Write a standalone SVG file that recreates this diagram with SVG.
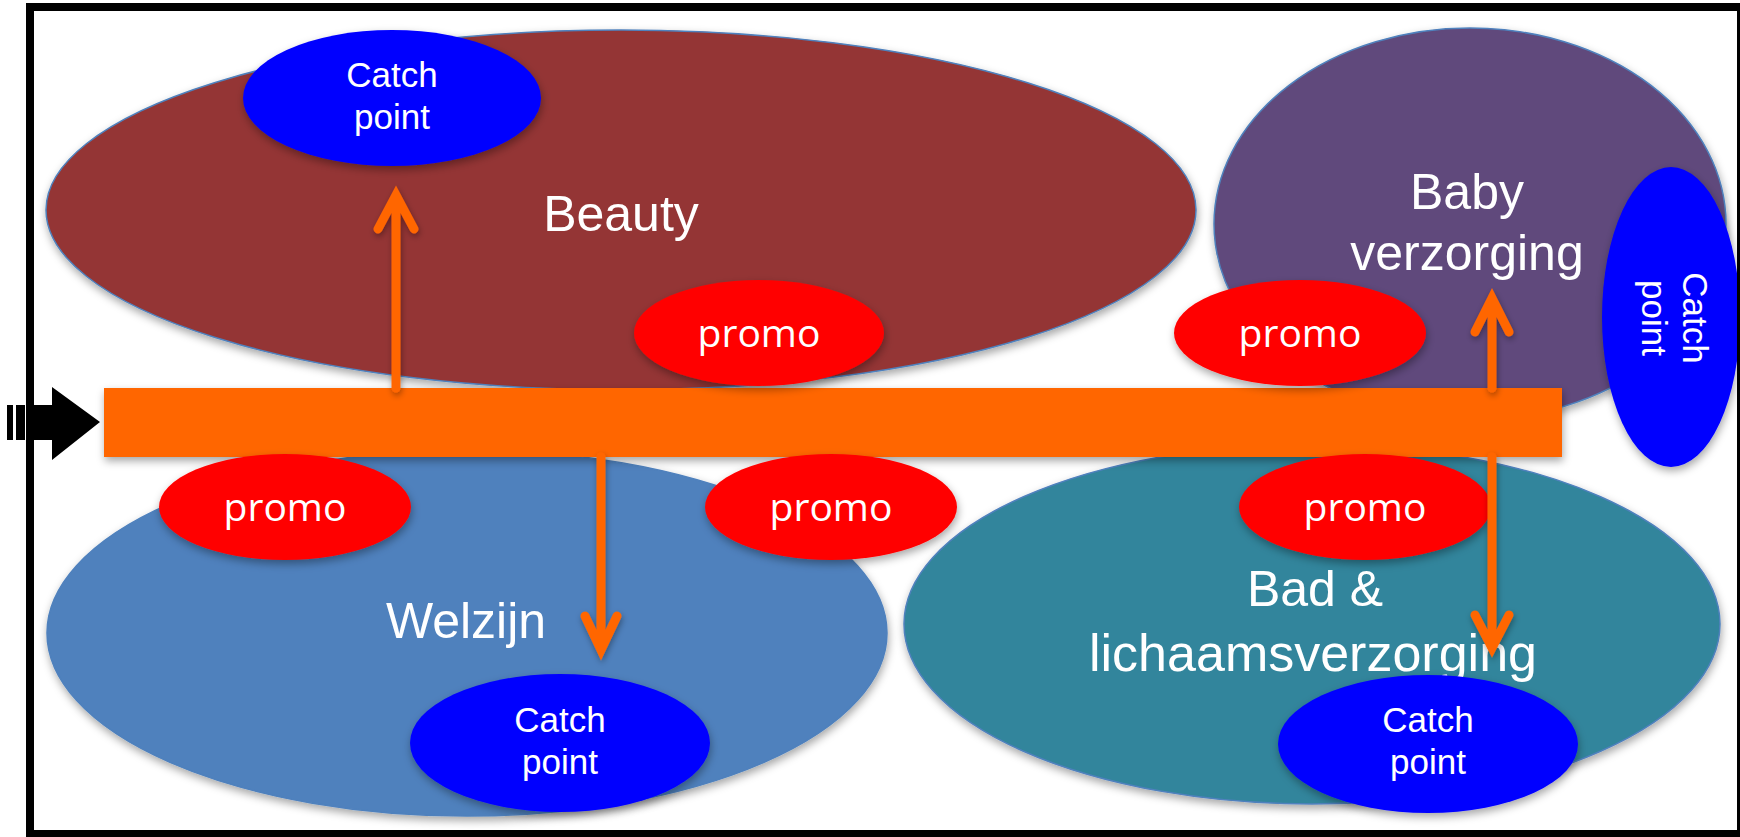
<svg xmlns="http://www.w3.org/2000/svg" width="1740" height="837" viewBox="0 0 1740 837">
<defs>
<filter id="sh" x="-20%" y="-20%" width="140%" height="150%">
<feDropShadow dx="1" dy="4" stdDeviation="4" flood-color="#000" flood-opacity="0.35"/>
</filter>
<filter id="shs" x="-50%" y="-20%" width="200%" height="140%">
<feDropShadow dx="1" dy="3" stdDeviation="3" flood-color="#000" flood-opacity="0.35"/>
</filter>
</defs>
<style>
.area{stroke:#4f81bd;stroke-width:1.5;filter:url(#sh)}
.promo{fill:#ff0000;filter:url(#sh)}
.catch{fill:#0000ff;filter:url(#sh)}
.big{font-family:"Liberation Sans",Arial,sans-serif;font-size:50px;fill:#fff;text-anchor:middle}
.ct{font-family:"Liberation Sans",Arial,sans-serif;font-size:35px;fill:#fff;text-anchor:middle}
.pt{font-family:"Open Sans","Liberation Sans",sans-serif;font-size:39px;font-weight:500;fill:#fff;text-anchor:middle}
.arr{fill:none;stroke:#ff6600;stroke-width:9;stroke-linecap:round;stroke-linejoin:miter;filter:url(#shs)}
</style>
<rect x="0" y="0" width="1740" height="837" fill="#fff"/>
<g id="beauty">
<ellipse class="area" cx="621" cy="210" rx="575" ry="180" fill="#943634"/>
<text class="big" x="621" y="231">Beauty</text>
</g>
<g id="baby">
<ellipse class="area" cx="1470" cy="224" rx="256" ry="196" fill="#604a7b"/>
<text class="big" x="1467" y="209">Baby</text>
<text class="big" x="1467" y="270">verzorging</text>
</g>
<g id="welzijn">
<ellipse class="area" cx="467" cy="633" rx="420" ry="183" fill="#4f81bd"/>
<text class="big" x="466" y="638">Welzijn</text>
</g>
<g id="bad">
<ellipse class="area" cx="1312" cy="624" rx="408" ry="180" fill="#31859c"/>
<text class="big" x="1315" y="606">Bad &amp;</text>
<text class="big" x="1313" y="671" style="font-size:52px">lichaamsverzorging</text>
</g>
<g id="bar">
<rect x="104" y="388" width="1458" height="69" fill="#ff6600" filter="url(#sh)"/>
</g>
<g id="entry-arrow" fill="#000">
<rect x="7" y="405" width="6" height="35"/>
<rect x="16" y="405" width="9" height="35"/>
<polygon points="29,405 52,405 52,387 100,422 52,460 52,440 29,440"/>
</g>
<g id="promo-beauty"><ellipse class="promo" cx="759" cy="333" rx="125" ry="53"/><text class="pt" x="759" y="347">promo</text></g>
<g id="promo-baby"><ellipse class="promo" cx="1300" cy="333" rx="126" ry="53"/><text class="pt" x="1300" y="347">promo</text></g>
<g id="promo-welzijn"><ellipse class="promo" cx="285" cy="507" rx="126" ry="53"/><text class="pt" x="285" y="521">promo</text></g>
<g id="promo-mid"><ellipse class="promo" cx="831" cy="507" rx="126" ry="53"/><text class="pt" x="831" y="521">promo</text></g>
<g id="promo-bad"><ellipse class="promo" cx="1365" cy="507" rx="126" ry="53"/><text class="pt" x="1365" y="521">promo</text></g>
<g id="catch-beauty"><ellipse class="catch" cx="392" cy="98" rx="149" ry="68"/><text class="ct" x="392" y="87">Catch</text><text class="ct" x="392" y="129">point</text></g>
<g id="catch-welzijn"><ellipse class="catch" cx="560" cy="743" rx="150" ry="69"/><text class="ct" x="560" y="732">Catch</text><text class="ct" x="560" y="774">point</text></g>
<g id="catch-bad"><ellipse class="catch" cx="1428" cy="744" rx="150" ry="69"/><text class="ct" x="1428" y="732">Catch</text><text class="ct" x="1428" y="774">point</text></g>
<g id="catch-baby"><ellipse class="catch" cx="1671" cy="317" rx="69" ry="150"/>
<g transform="translate(1671,318) rotate(90)"><text class="ct" x="0" y="-12">Catch</text><text class="ct" x="0" y="29">point</text></g></g>
<g id="connectors">
<path class="arr" d="M396,388 V198 M378,229 L396,195 L414,229"/>
<path class="arr" d="M601,457 V647 M585,616 L601,650 L617,616"/>
<path class="arr" d="M1492,388 V301 M1475,332 L1492,298 L1509,332"/>
<path class="arr" d="M1492,457 V645 M1475,615 L1492,648 L1509,615"/>
</g>
<rect x="30" y="7" width="1711" height="827" fill="none" stroke="#000" stroke-width="8"/>
</svg>
